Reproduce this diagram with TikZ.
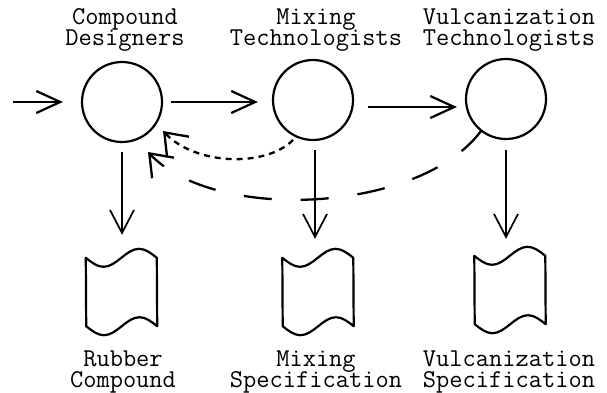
\documentclass[tikz,border=0pt]{standalone}
\usepackage{fontspec}
\newcommand\labeltype{\ttfamily\fontsize{25.7}{21}\selectfont\lineskiplimit=-100pt\relax\lineskip=0pt\relax}
\usetikzlibrary{arrows.meta,calc}
\begin{document}
\begin{tikzpicture}[x=1pt,y=-1pt,
  role/.style={circle,draw,line width=2.2pt,minimum size=80pt,inner sep=0pt},
  doc/.style={minimum width=71pt,minimum height=68pt,inner sep=0pt},
  docline/.style={line width=2.2pt,line join=round},
  flow/.style={line width=2.2pt,-{Straight Barb[length=24pt,width=22pt]}},
  down/.style={line width=1.7pt,-{Straight Barb[length=23pt,width=24pt]}},
  fb/.style={line width=2.3pt,-{Straight Barb[length=20pt,width=30pt]}},
  lbl/.style={font=\labeltype,align=center,inner sep=0pt,anchor=base}
]
\useasboundingbox (0,0) rectangle (607,392);

% roles
\node[role] (c1) at (122,102) {};
\node[role] (c2) at (313,100) {};
\node[role] (c3) at (506,99) {};

% documents
\node[doc] (d1) at (121.5,292) {};
\node[doc] (d2) at (318,292) {};
\node[doc] (d3) at (510,290) {};
\foreach \d in {d1,d2,d3}{
  \draw[docline] (\d.north west) sin ++(17.75,9) cos ++(17.75,-9) sin ++(17.75,-9) cos ++(17.75,9)
    -- (\d.south east) sin ++(-17.75,-9) cos ++(-17.75,9) sin ++(-17.75,9) cos ++(-17.75,-9) -- cycle;
}

% labels (base = baseline of the last line)
\node[lbl] (l1) at (125,45) {Compound\\Designers};
\node[lbl] (l2) at (316,45) {Mixing\\Technologists};
\node[lbl] (l3) at (509,45) {Vulcanization\\Technologists};
\node[lbl] (b1) at (123,387) {Rubber\\Compound};
\node[lbl] (b2) at (316,387) {Mixing\\Specification};
\node[lbl] (b3) at (509,387) {Vulcanization\\Specification};

% main flow
\coordinate (src) at (13,102);
\draw[flow, shorten >=18pt] (src) -- (c1.west);
\draw[flow, shorten <=8pt, shorten >=14pt] (c1.east) -- (c1.east -| c2.west);
\draw[flow, shorten <=14pt, shorten >=8pt] ([yshift=-7pt]c2.east) -- ([yshift=-7pt]c2.east -| c3.west);

% outputs
\draw[down, shorten <=9pt, shorten >=23pt] (c1.south) -- (c1.south |- d1.north);
\draw[down, shorten <=9pt, shorten >=19pt] ([xshift=2pt]c2.south) -- ([xshift=2pt]c2.south |- d2.north);
\draw[down, shorten <=10pt, shorten >=17pt] (c3.south) -- (c3.south |- d3.north);

% feedback
\draw[fb, dash pattern=on 6pt off 5pt] ($(c2.center)+(-20,40)$) .. controls (265,168) and (195,165) .. ($(c1.center)+(41,29)$);
\draw[fb, dash pattern=on 28pt off 29pt] ($(c3.center)+(-25,32)$) .. controls (420,213) and (215,223) .. ($(c1.center)+(26,50)$);
\end{tikzpicture}
\end{document}
